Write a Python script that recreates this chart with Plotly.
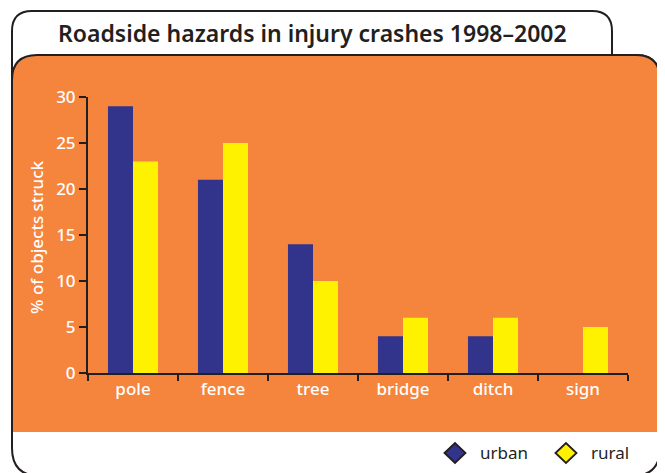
import plotly.graph_objects as go

categories = ["pole", "fence", "tree", "bridge", "ditch", "sign"]
urban = [29, 21, 14, 4, 4, None]
rural = [23, 25, 10, 6, 6, 5]
y_ticks = [0, 5, 10, 15, 20, 25, 30]
series_names = ["urban", "rural"]

TITLE = "Roadside hazards in injury crashes 1998\u20132002"
YTITLE = "% of objects struck"

# page body has an 8px margin; work in window coordinates and shift
OFF = 8
W, H = 665, 473
L, R, T, B = 88 - OFF, 665 - (628 - OFF), 97 - OFF, 473 - (373 - OFF)
PW, PH = W - L - R, H - T - B

ORANGE = "#F5843C"
NAVY = "#32338A"
YELLOW = "#FFF200"
DARK = "#231F20"
FONT = "Noto Sans"
colors = [NAVY, YELLOW]


def px(x):
    return (x - OFF - L) / PW


def py(y):
    return (H - B - (y - OFF)) / PH


def path(points):
    out = []
    for cmd, *coords in points:
        pts = []
        for i in range(0, len(coords), 2):
            pts.append(f"{px(coords[i]):.5f},{py(coords[i+1]):.5f}")
        out.append(cmd + " " + " ".join(pts))
    return " ".join(out)


frame = path([
    ("M", 12, 448), ("L", 12, 31), ("Q", 12, 11, 32, 11), ("L", 592, 11),
    ("Q", 612, 11, 612, 31), ("L", 612, 55), ("L", 636, 55),
    ("Q", 660, 55, 660, 80), ("L", 660, 448), ("Q", 660, 476, 632, 476),
    ("L", 40, 476), ("Q", 12, 476, 12, 448),
]) + " Z"

panel = path([
    ("M", 12, 432), ("L", 12, 80), ("Q", 12, 55, 37, 55), ("L", 636, 55),
    ("Q", 660, 55, 660, 80), ("L", 660, 432),
])

fig = go.Figure()
fig.add_trace(go.Bar(x=categories, y=urban, name=series_names[0],
                     marker_color=colors[0], marker_line_width=0))
fig.add_trace(go.Bar(x=categories, y=rural, name=series_names[1],
                     marker_color=colors[1], marker_line_width=0))

shapes = [
    dict(type="path", path=frame, xref="paper", yref="paper",
         fillcolor="white", line=dict(color=DARK, width=2), layer="below"),
    dict(type="path", path=panel, xref="paper", yref="paper",
         fillcolor=ORANGE, line=dict(color=DARK, width=2), layer="below"),
]
annotations = [
    dict(text=TITLE, x=px(312), y=py(33), xref="paper", yref="paper",
         showarrow=False, xanchor="center", yanchor="middle",
         font=dict(family=FONT, size=23, color=DARK, weight=600)),
    dict(text=YTITLE, x=px(36), y=py(237), xref="paper", yref="paper",
         showarrow=False, textangle=-90, xanchor="center", yanchor="middle",
         font=dict(family=FONT, size=17, color="white", weight=500)),
]

# legend (diamond key + label), laid out like the original
legend_x = [455, 566]
legend_y = 453
for name, col, cx in zip(series_names, colors, legend_x):
    d = path([("M", cx - 10.5, legend_y), ("L", cx, legend_y - 10),
              ("L", cx + 10.5, legend_y), ("L", cx, legend_y + 10)]) + " Z"
    shapes.append(dict(type="path", path=d, xref="paper", yref="paper",
                       fillcolor=col, line=dict(color=DARK, width=1.8)))
    annotations.append(dict(text=name, x=px(cx + 23), y=py(legend_y - 1),
                            xref="paper", yref="paper", showarrow=False,
                            xanchor="left", yanchor="middle",
                            font=dict(family=FONT, size=17, color=DARK)))

fig.update_layout(
    width=W, height=H,
    margin=dict(l=L, r=R, t=T, b=B),
    paper_bgcolor="white", plot_bgcolor="rgba(0,0,0,0)",
    barmode="group", bargap=0.444, bargroupgap=0,
    showlegend=False,
    font=dict(family=FONT, color="white", size=16),
    shapes=shapes,
    annotations=annotations,
    xaxis=dict(showline=True, linecolor=DARK, linewidth=2, ticks="outside",
               tickson="boundaries", ticklen=6, tickwidth=2, tickcolor=DARK,
               showgrid=False, zeroline=False,
               tickfont=dict(family=FONT, size=17, color="white", weight=500)),
    yaxis=dict(range=[0, 30], tickvals=y_ticks, showline=True, linecolor=DARK,
               linewidth=2, ticks="outside", ticklen=7, tickwidth=2,
               tickcolor=DARK, showgrid=False, zeroline=False,
               tickfont=dict(family=FONT, size=17, color="white", weight=500)),
)

fig.write_html("out.html")
